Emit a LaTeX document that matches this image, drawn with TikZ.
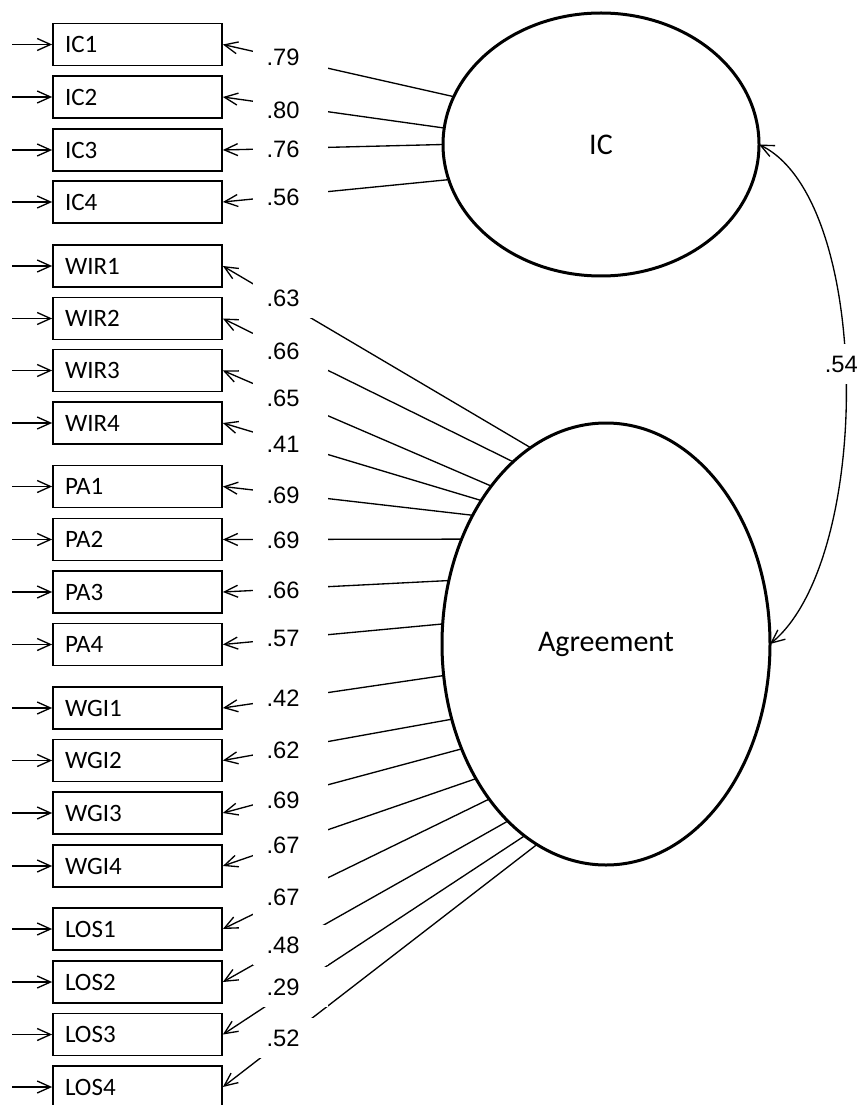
\documentclass[tikz,border=0pt]{standalone}
\usepackage{fontspec}
\newfontfamily\lblfont{Liberation Sans}
\newfontfamily\cfont{Carlito}
\usetikzlibrary{arrows.meta,shapes.geometric}
\begin{document}
\begin{tikzpicture}[x=0.75pt,y=-0.75pt,
  >={Straight Barb[length=10pt,width=9pt]},
  obs/.style={draw, line width=1.3pt, rectangle, minimum height=31.5pt,
    text width=108.75pt, inner xsep=9pt, inner ysep=0pt, align=left,
    font=\cfont\fontsize{18.75}{22}\selectfont},
  lat/.style={draw, ellipse, line width=2.25pt, inner sep=0pt, outer sep=0pt,
    font=\cfont\fontsize{22.5}{26}\selectfont},
  ln/.style={line width=1pt},
  lbl/.style={fill=white, inner sep=0pt, minimum width=56.25pt,
    minimum height=30pt, font=\lblfont\fontsize{17.8}{20}\selectfont},
  corlbl/.style={fill=white, inner xsep=1pt, inner ysep=0pt,
    minimum height=30pt, font=\lblfont\fontsize{17.8}{20}\selectfont}]
\useasboundingbox (0,0) rectangle (859,1105);

% observed variables with error arrows
\foreach \n/\y in {IC1/44.5, IC2/97, IC3/150, IC4/202,
  WIR1/266, WIR2/318.5, WIR3/370.5, WIR4/423,
  PA1/486.5, PA2/539.5, PA3/592, PA4/644.5,
  WGI1/708, WGI2/760.5, WGI3/813, WGI4/866,
  LOS1/929, LOS2/982, LOS3/1034.5, LOS4/1087} {
  \node[obs] (\n) at (137.5,\y) {\n};
  \coordinate (err\n) at (12,\y);
  \draw[ln,->] (err\n) -- (\n.west);
}

% latent variables
\node[lat, minimum width=237pt, minimum height=197.25pt] (IC) at (601,144.5) {IC};
\node[lat, minimum width=246pt, minimum height=331.5pt] (Agr) at (606,644) {Agreement};

% loadings
\foreach \n/\e/\a in {IC1/IC/162, IC2/IC/174, IC3/IC/180, IC4/IC/193,
  WIR1/Agr/111, WIR2/Agr/117, WIR3/Agr/126, WIR4/Agr/131,
  PA1/Agr/136, PA2/Agr/144, PA3/Agr/158, PA4/Agr/173,
  WGI1/Agr/191, WGI2/Agr/206, WGI3/Agr/216, WGI4/Agr/226,
  LOS1/Agr/233, LOS2/Agr/241, LOS3/Agr/247, LOS4/Agr/251} {
  \draw[ln,->] (\e.\a) -- (\n.east);
}
\foreach \ly/\v in {57/.79, 110/.80, 149/.76, 197/.56,
  298/.63, 351/.66, 398/.65, 444/.41,
  495/.69, 540/.69, 590/.66, 638/.57,
  698/.42, 750/.62, 800/.69, 845/.67,
  897/.67, 945/.48, 987/.29, 1038/.52} {
  \node[lbl] at (290.5,\ly) {\v\kern11.25pt};
}

% correlation
\draw[ln,<->] (IC.east) .. controls (873,200) and (873,560) .. (Agr.east)
  node[pos=0.47, corlbl, xshift=-3pt] {.54};
\end{tikzpicture}
\end{document}
